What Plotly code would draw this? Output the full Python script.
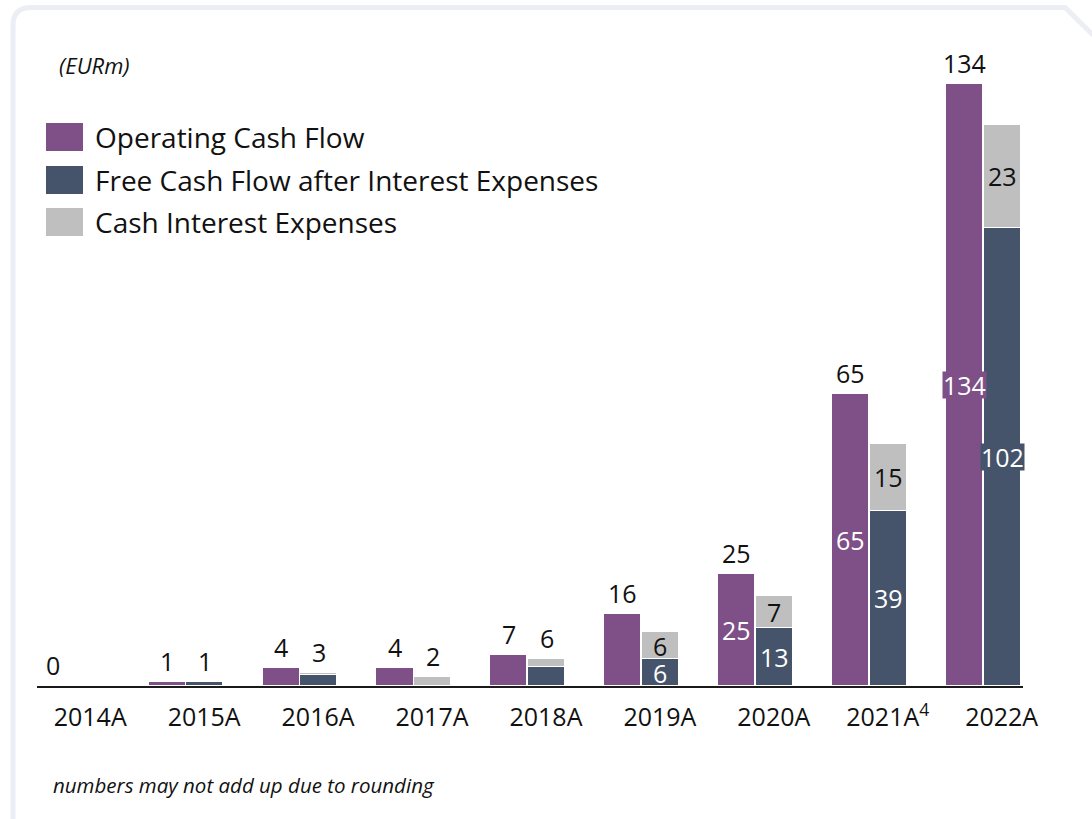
import plotly.graph_objects as go

# Cash flow development, EURm
years = ["2014A", "2015A", "2016A", "2017A", "2018A", "2019A", "2020A", "2021A", "2022A"]
tick_text = ["2014A", "2015A", "2016A", "2017A", "2018A", "2019A", "2020A", "2021A<sup>4</sup>", "2022A"]
operating_cf = [0, 1, 4, 4, 7, 16, 25, 65, 134]
free_cf_after_int = [0, 1, 2.5, 0, 4.3, 6, 13, 39, 102]
cash_interest = [0, 0, 0.5, 2, 1.7, 6, 7, 15, 23]

series_names = ["Operating Cash Flow", "Free Cash Flow after Interest Expenses", "Cash Interest Expenses"]

PURPLE = "#7e5087"
SLATE = "#45546b"
GREY = "#bfbfbf"
FONT = "Open Sans, Noto Sans, sans-serif"
FS = 25

W, H = 1092, 819
ML, MR, MT, MB = 37, 69, 35, 133
PW, PH = W - ML - MR, H - MT - MB

OFF = 0.165
BW = 0.325

x_idx = list(range(len(years)))
x_ocf = [i - OFF for i in x_idx]
x_stack = [i + OFF for i in x_idx]

fig = go.Figure()
fig.add_trace(go.Bar(x=x_ocf, y=operating_cf, width=BW, name=series_names[0],
                     marker=dict(color=PURPLE, line=dict(color="white", width=1)),
                     showlegend=False))
fig.add_trace(go.Bar(x=x_stack, y=free_cf_after_int, width=BW, name=series_names[1],
                     marker=dict(color=SLATE, line=dict(color="white", width=1)),
                     showlegend=False))
fig.add_trace(go.Bar(x=x_stack, y=cash_interest, width=BW, name=series_names[2],
                     marker=dict(color=GREY, line=dict(color="white", width=1)),
                     showlegend=False))

annotations = []


def top_label(x, y, text):
    annotations.append(dict(x=x, y=y, xref="x", yref="y", text=text, showarrow=False,
                            yanchor="bottom", yshift=2,
                            font=dict(family=FONT, size=FS, color="#111111")))


def inner_label(x, y, text, bg, fg):
    # wide labels get a box in the bar colour so they stay legible past the bar edge
    wide = len(text) >= 3
    annotations.append(dict(x=x, y=y, xref="x", yref="y", text=text, showarrow=False,
                            bgcolor=bg if wide else None, borderpad=0, height=26,
                            font=dict(family=FONT, size=FS, color=fg)))


for i in x_idx:
    o = operating_cf[i]
    f = free_cf_after_int[i]
    c = cash_interest[i]
    top_label(x_ocf[i], o, f"{o:.0f}")
    if o >= 20:
        inner_label(x_ocf[i], o / 2, f"{o:.0f}", PURPLE, "white")
    total = f + c
    if f >= 5:
        inner_label(x_stack[i], f / 2, f"{f:.0f}", SLATE, "white")
        inner_label(x_stack[i], f + c / 2, f"{c:.0f}", GREY, "#111111")
    elif total > 0:
        top_label(x_stack[i], total, f"{total:.0f}")


def px(x):
    return (x - ML) / PW


def py(y):
    return (H - MB - y) / PH


# Legend, drawn as swatches with text
legend_colors = [PURPLE, SLATE, GREY]
legend_rows = [137, 180, 222]
shapes = []
for name, col, yc in zip(series_names, legend_colors, legend_rows):
    shapes.append(dict(type="rect", xref="paper", yref="paper",
                       x0=px(46), x1=px(83), y0=py(yc - 14), y1=py(yc + 14),
                       fillcolor=col, line=dict(width=0)))
    annotations.append(dict(x=px(93), y=py(yc), xref="paper", yref="paper", text=name,
                            showarrow=False, xanchor="left", yanchor="middle",
                            font=dict(family=FONT, size=28, color="#111111")))

# Unit and footnote
annotations.append(dict(x=px(57), y=py(65), xref="paper", yref="paper", text="<i>(EURm)</i>",
                        showarrow=False, xanchor="left", yanchor="middle",
                        font=dict(family=FONT, size=22, color="#111111")))
annotations.append(dict(x=px(51), y=py(785), xref="paper", yref="paper",
                        text="<i>numbers may not add up due to rounding</i>",
                        showarrow=False, xanchor="left", yanchor="middle",
                        font=dict(family=FONT, size=20.5, color="#111111")))

# Card outline: rounded top-left, chamfered top-right
r = 18
frame = (f"M {px(13)} {py(H + 20)} L {px(13)} {py(7.5 + r)} "
         f"Q {px(13)} {py(7.5)} {px(13 + r)} {py(7.5)} "
         f"L {px(1065)} {py(7.5)} L {px(1100)} {py(42)}")
shapes.append(dict(type="path", xref="paper", yref="paper", path=frame,
                   line=dict(color="#eceef3", width=5), layer="below"))

fig.update_layout(
    width=W, height=H,
    margin=dict(l=ML, r=MR, t=MT, b=MB),
    paper_bgcolor="white", plot_bgcolor="white",
    barmode="stack", bargap=0,
    font=dict(family=FONT, size=FS, color="#111111"),
    annotations=annotations,
    shapes=shapes,
    xaxis=dict(range=[-0.307, 8.347], tickmode="array",
               tickvals=[i + 0.16 for i in x_idx], ticktext=tick_text,
               showgrid=False, zeroline=False, showline=True, linecolor="#1a1a1a",
               linewidth=2, ticks="", ticklabelstandoff=8,
               tickfont=dict(family=FONT, size=FS, color="#111111")),
    yaxis=dict(range=[0, 145], visible=False, showgrid=False, zeroline=False),
)

fig.write_html("out.html")
